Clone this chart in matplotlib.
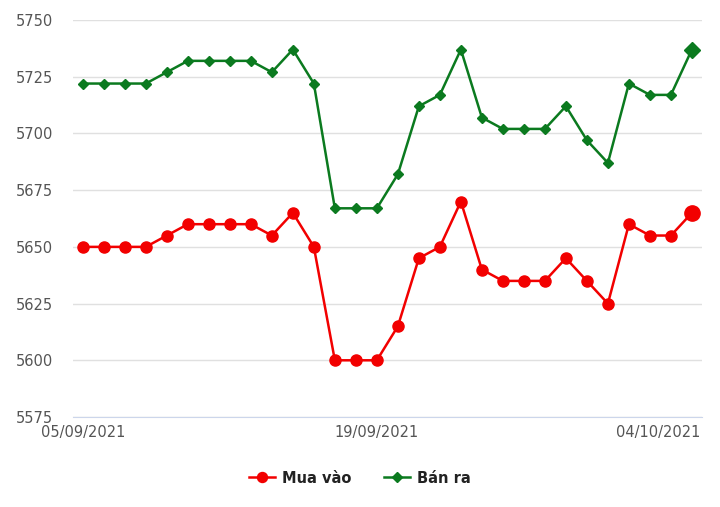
import numpy as np
import matplotlib
matplotlib.use('Agg')
import matplotlib.pyplot as plt
import matplotlib.transforms as mtransforms

dates = ['05/09/2021', '06/09/2021', '07/09/2021', '08/09/2021', '09/09/2021',
         '10/09/2021', '11/09/2021', '12/09/2021', '13/09/2021', '14/09/2021',
         '15/09/2021', '16/09/2021', '17/09/2021', '18/09/2021', '19/09/2021',
         '20/09/2021', '21/09/2021', '22/09/2021', '23/09/2021', '24/09/2021',
         '25/09/2021', '26/09/2021', '27/09/2021', '28/09/2021', '29/09/2021',
         '30/09/2021', '01/10/2021', '02/10/2021', '03/10/2021', '04/10/2021']
mua_vao = [5650, 5650, 5650, 5650, 5655, 5660, 5660, 5660, 5660, 5655,
           5665, 5650, 5600, 5600, 5600, 5615, 5645, 5650, 5670, 5640,
           5635, 5635, 5635, 5645, 5635, 5625, 5660, 5655, 5655, 5665]
ban_ra = [5722, 5722, 5722, 5722, 5727, 5732, 5732, 5732, 5732, 5727,
          5737, 5722, 5667, 5667, 5667, 5682, 5712, 5717, 5737, 5707,
          5702, 5702, 5702, 5712, 5697, 5687, 5722, 5717, 5717, 5737]
tick_dates = ['05/09/2021', '19/09/2021', '04/10/2021']
y_ticks = [5575, 5600, 5625, 5650, 5675, 5700, 5725, 5750]

RED = '#f20000'
GREEN = '#0b7a1f'

fig = plt.figure(figsize=(7.2, 5.07), dpi=100)
ax = fig.add_axes([0.101, 0.1775, 0.874, 0.783])

x = np.arange(len(dates))
ax.plot(x, mua_vao, color=RED, lw=1.8, marker='o', ms=8, label='Mua vào', zorder=3)
ax.plot(x, ban_ra, color=GREEN, lw=1.8, marker='D', ms=5.5, label='Bán ra', zorder=3)
# last point highlighted
ax.plot(x[-1], mua_vao[-1], 'o', color=RED, ms=11, zorder=4)
ax.plot(x[-1], ban_ra[-1], 'D', color=GREEN, ms=8, zorder=4)

ax.set_xlim(-0.48, len(dates) - 1 + 0.48)
ax.set_ylim(y_ticks[0], y_ticks[-1])
ax.set_yticks(y_ticks)
ax.set_yticklabels([str(v) for v in y_ticks])
ax.set_xticks([dates.index(d) for d in tick_dates])
ax.set_xticklabels(tick_dates)

ax.grid(axis='y', color='#e0e0e0', lw=1)
ax.set_axisbelow(True)
for s in ['top', 'right', 'left']:
    ax.spines[s].set_visible(False)
ax.spines['bottom'].set_color('#ccd6eb')
ax.tick_params(axis='both', length=0, labelsize=10.5, labelcolor='#555555')
ax.tick_params(axis='y', pad=14)
ax.tick_params(axis='x', pad=6)

lbls = ax.get_xticklabels()
lbls[-1].set_horizontalalignment('right')
lbls[-1].set_transform(lbls[-1].get_transform() +
                       mtransforms.ScaledTranslation(8 / 100, 0, fig.dpi_scale_trans))

handles, labels = ax.get_legend_handles_labels()
leg = fig.legend(handles, labels, loc='center', bbox_to_anchor=(0.5, 0.057), ncol=2,
                 frameon=False, prop={'weight': 'bold', 'size': 10.5}, handlelength=1.8,
                 handletextpad=0.5, columnspacing=2.2, markerscale=0.9)
for t in leg.get_texts():
    t.set_color('#222222')

fig.savefig('out.png', dpi=100)
